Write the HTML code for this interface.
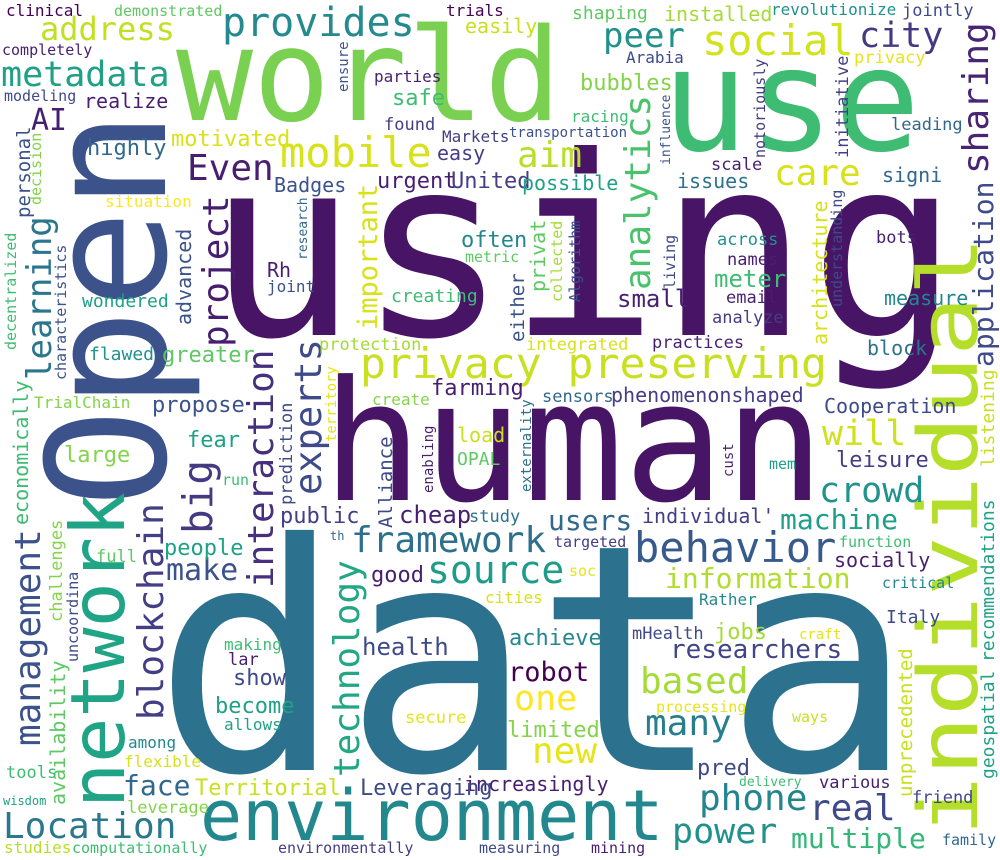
<!DOCTYPE html>
<html><head><meta charset="utf-8">
<style>
html,body{margin:0;padding:0;background:#fff;}
svg{display:block;}
text{font-family:"DejaVu Sans Mono","Liberation Mono",monospace;}
</style></head>
<body>
<svg id="cloud" width="1000" height="860" viewBox="0 0 1000 860" xmlns="http://www.w3.org/2000/svg">
<rect x="0" y="0" width="1000" height="860" fill="#ffffff"/>
</svg>
<script>
// word, font size (relative frequency weight), placement x, placement y, vertical flag, colour
const words = [
["data",316,153,770,0,"#2c728e"],
["using",250,207,335,0,"#471466"],
["human",167,322,500,0,"#471466"],
["world",128,176,120,0,"#7ad151"],
["use",143,662,150,0,"#3fbc73"],
["Open",165,165,508,1,"#3b528b"],
["network",75,124,808,1,"#20a486"],
["environment",70,200,840,0,"#23888e"],
["individual",82,977,836,1,"#b5de2b"],
["privacy preserving",42,360,378,0,"#c8e020"],
["blockchain",36,163,720,1,"#433e85"],
["Location",36,3,838,0,"#2a788e"],
["address",32,40,40,0,"#c2df23"],
["metadata",35,1,86,0,"#1fa187"],
["provides",40,222,36,0,"#238a8d"],
["social",42,702,55,0,"#d2e21b"],
["peer",34,603,47,0,"#21918c"],
["city",35,859,47,0,"#443983"],
["sharing",36,988,174,1,"#482475"],
["mobile",42,280,167,0,"#d8e219"],
["aim",36,517,167,0,"#b8de29"],
["Even",36,187,180,0,"#481f70"],
["care",36,774,185,0,"#d8e219"],
["analytics",36,650,290,1,"#4ac16d"],
["project",36,228,347,1,"#471d6f"],
["learning",34,51,380,1,"#2a768e"],
["big",41,212,534,1,"#443a83"],
["interaction",36,273,588,1,"#462f7e"],
["experts",37,321,495,1,"#3e4a89"],
["will",35,822,445,0,"#d0e11c"],
["crowd",35,819,502,0,"#20938c"],
["technology",36,359,777,1,"#22a785"],
["management",36,40,746,1,"#3b528b"],
["many",36,645,735,0,"#277f8e"],
["based",36,640,693,0,"#a5db36"],
["one",35,514,710,0,"#fde725"],
["new",36,532,763,0,"#e7e419"],
["robot",27,508,681,0,"#440154"],
["information",28,665,588,0,"#b0dd2f"],
["machine",28,780,529,0,"#1f9e89"],
["phone",36,699,810,0,"#25858e"],
["real",36,809,820,0,"#3e4a89"],
["power",35,672,843,0,"#21918c"],
["multiple",28,791,848,0,"#35b779"],
["face",28,123,795,0,"#31688e"],
["application",28,993,367,1,"#3e4a89"],
["users",28,548,530,0,"#31688e"],
["framework",36,351,552,0,"#2d708e"],
["behavior",42,634,562,0,"#375a8c"],
["source",38,427,583,0,"#1e9c89"],
["make",30,166,580,0,"#3b528b"],
["researchers",26,670,658,0,"#414487"],
["clinical",16,6,16,0,"#440154"],
["demonstrated",15,114,16,0,"#5ec962"],
["trials",16,446,16,0,"#440154"],
["easily",20,465,33,0,"#c8e020"],
["shaping",18,572,19,0,"#5ec962"],
["installed",20,664,21,0,"#a5db36"],
["revolutionize",16,771,15,0,"#21918c"],
["jointly",17,902,16,0,"#3e4a89"],
["completely",15,2,55,0,"#481f70"],
["ensure",14,348,92,1,"#3b528b"],
["parties",16,374,82,0,"#481f70"],
["modeling",15,4,101,0,"#3e4a89"],
["realize",20,84,108,0,"#481f70"],
["safe",22,392,105,0,"#3fbc73"],
["AI",30,31,130,0,"#481f70"],
["found",17,384,130,0,"#433e85"],
["Markets",16,442,142,0,"#433e85"],
["Arabia",16,626,63,0,"#3e4a89"],
["privacy",17,854,63,0,"#e7e419"],
["bubbles",22,580,90,0,"#84d44b"],
["racing",16,571,122,0,"#3fbc73"],
["transportation",14,509,137,0,"#3b528b"],
["influence",13,670,165,1,"#3b528b"],
["notoriously",15,765,158,1,"#433e85"],
["initiative",17,848,158,1,"#433e85"],
["leading",17,891,130,0,"#31688e"],
["personal",19,30,218,1,"#3b528b"],
["decision",15,41,205,1,"#84d44b"],
["highly",22,87,155,0,"#31688e"],
["motivated",22,171,146,0,"#d8e219"],
["easy",20,437,160,0,"#433e85"],
["scale",17,711,170,0,"#481f70"],
["Badges",20,274,192,0,"#3b528b"],
["urgent",22,377,188,0,"#481f70"],
["United",22,451,188,0,"#433e85"],
["possible",20,522,190,0,"#1fa187"],
["issues",20,677,188,0,"#2c728e"],
["signi",20,882,182,0,"#31688e"],
["situation",16,105,207,0,"#fde725"],
["decentralized",15,16,350,1,"#3fbc73"],
["characteristics",15,66,380,1,"#3b528b"],
["advanced",20,191,325,1,"#3b528b"],
["important",27,377,330,1,"#d8e219"],
["research",13,307,260,1,"#31688e"],
["often",22,461,247,0,"#23888e"],
["metric",15,465,262,0,"#5ec962"],
["either",19,524,342,1,"#3b528b"],
["privat",20,545,292,1,"#5ec962"],
["collected",15,562,302,1,"#a5db36"],
["Algorithm",15,580,302,1,"#3b528b"],
["living",15,675,289,1,"#3e4a89"],
["across",17,717,245,0,"#21918c"],
["names",17,727,265,0,"#481f70"],
["meter",24,714,287,0,"#3fbc73"],
["email",17,726,303,0,"#481f70"],
["analyze",17,712,323,0,"#433e85"],
["small",24,617,307,0,"#481f70"],
["architecture",20,827,345,1,"#d8e219"],
["understanding",15,842,307,1,"#3e4a89"],
["bots",17,876,243,0,"#481f70"],
["measure",20,884,305,0,"#23888e"],
["Rh",20,267,277,0,"#481f70"],
["joint",16,267,292,0,"#3b528b"],
["wondered",18,82,307,0,"#1fa187"],
["creating",18,391,302,0,"#3fbc73"],
["flawed",18,89,360,0,"#21918c"],
["greater",22,162,362,0,"#5ec962"],
["protection",17,319,350,0,"#a5db36"],
["integrated",17,526,350,0,"#d8e219"],
["practices",17,652,348,0,"#481f70"],
["block",20,867,355,0,"#2c728e"],
["TrialChain",16,34,408,0,"#84d44b"],
["propose",22,152,412,0,"#3b528b"],
["create",16,372,405,0,"#84d44b"],
["farming",22,431,395,0,"#481f70"],
["territory",14,336,442,1,"#e7e419"],
["sensors",17,542,402,0,"#31688e"],
["phenomenonshaped",20,611,402,0,"#433e85"],
["Cooperation",20,824,413,0,"#3e4a89"],
["economically",20,28,525,1,"#3fbc73"],
["fear",22,187,447,0,"#1fa187"],
["large",22,64,462,0,"#84d44b"],
["run",15,222,485,0,"#3fbc73"],
["prediction",17,292,505,1,"#3e4a89"],
["Alliance",19,392,528,1,"#3e4a89"],
["enabling",14,433,493,1,"#481f70"],
["externality",14,531,492,1,"#2c728e"],
["load",20,457,442,0,"#c8e020"],
["OPAL",18,457,465,0,"#5ec962"],
["listening",18,994,467,1,"#c8e020"],
["recommendations",18,994,662,1,"#1fa187"],
["geospatial",18,994,779,1,"#1fa187"],
["unprecedented",19,912,797,1,"#c8e020"],
["cust",14,733,477,1,"#481f70"],
["mem",15,769,469,0,"#1f9e89"],
["leisure",22,836,467,0,"#433e85"],
["public",22,280,523,0,"#433e85"],
["cheap",24,399,523,0,"#481f70"],
["study",17,469,522,0,"#2c728e"],
["th",12,330,540,0,"#31688e"],
["individual'",20,642,523,0,"#433e85"],
["targeted",15,554,547,0,"#433e85"],
["function",15,839,547,0,"#3fbc73"],
["socially",20,834,567,0,"#481f70"],
["critical",15,882,588,0,"#23888e"],
["soc",15,569,576,0,"#e7e419"],
["cities",16,485,603,0,"#d8e219"],
["Rather",16,699,605,0,"#23888e"],
["Italy",18,886,623,0,"#3e4a89"],
["people",22,164,555,0,"#1fa187"],
["full",17,96,562,0,"#5ec962"],
["challenges",17,62,622,1,"#84d44b"],
["uncoordina",15,78,662,1,"#3e4a89"],
["availability",20,65,805,1,"#5ec962"],
["good",22,371,582,0,"#481f70"],
["making",16,224,650,0,"#3fbc73"],
["lar",17,228,665,0,"#481f70"],
["show",22,233,685,0,"#3e4a89"],
["become",22,215,713,0,"#1fa187"],
["allows",16,224,730,0,"#1fa187"],
["health",24,362,655,0,"#3e4a89"],
["achieve",22,509,645,0,"#23888e"],
["mHealth",17,632,639,0,"#3e4a89"],
["jobs",22,714,639,0,"#a5db36"],
["craft",14,799,639,0,"#e7e419"],
["processing",15,656,712,0,"#e7e419"],
["ways",15,792,722,0,"#c8e020"],
["secure",17,405,723,0,"#e7e419"],
["limited",22,507,737,0,"#84d44b"],
["among",16,128,748,0,"#23888e"],
["flexible",16,124,767,0,"#d8e219"],
["pred",22,697,775,0,"#3e4a89"],
["delivery",13,739,786,0,"#3fbc73"],
["various",17,819,788,0,"#481f70"],
["increasingly",20,464,791,0,"#481f70"],
["Leveraging",22,360,795,0,"#3e4a89"],
["Territorial",22,195,795,0,"#c8e020"],
["friend",17,912,803,0,"#3e4a89"],
["tools",17,6,778,0,"#3fbc73"],
["wisdom",12,3,805,0,"#1fa187"],
["leverage",17,127,813,0,"#84d44b"],
["family",15,942,845,0,"#31688e"],
["studies",16,4,853,0,"#b8de29"],
["computationally",15,72,853,0,"#3fbc73"],
["environmentally",15,278,853,0,"#433e85"],
["measuring",15,479,853,0,"#3e4a89"],
["mining",15,591,853,0,"#481f70"]
];
const svg = document.getElementById('cloud');
const NS = 'http://www.w3.org/2000/svg';
words.forEach(function(w){
  const t = document.createElementNS(NS,'text');
  
  
  t.setAttribute('x', w[2]);
  t.setAttribute('y', w[3]);
  t.setAttribute('font-size', w[1]);
  t.setAttribute('fill', w[5]);
  if (w[4]) t.setAttribute('transform', 'rotate(-90 ' + w[2] + ' ' + w[3] + ')');
  if (w[0] === 'privacy preserving') { t.setAttribute('textLength', 467); t.setAttribute('lengthAdjust', 'spacingAndGlyphs'); }
  if (w[0] === 'individual') { t.setAttribute('textLength', 600); t.setAttribute('lengthAdjust', 'spacingAndGlyphs'); }
  t.textContent = w[0];
  svg.appendChild(t);
});
</script>
</body></html>
